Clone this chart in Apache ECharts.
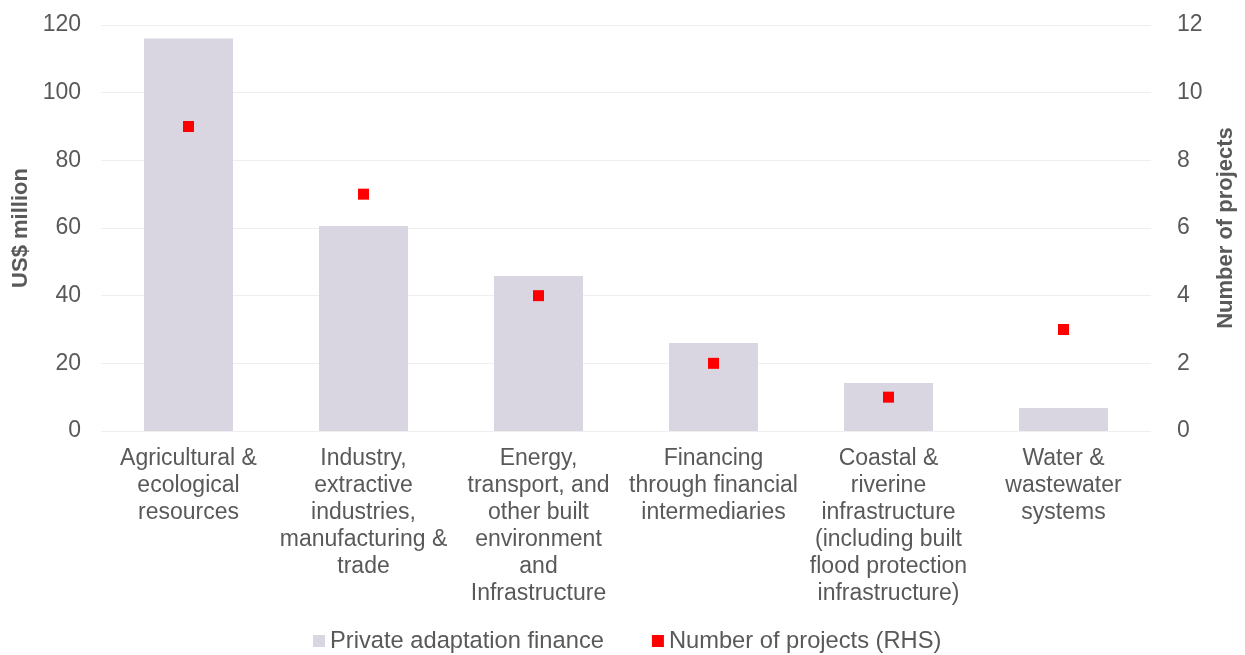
<!DOCTYPE html>
<html><head><meta charset="utf-8">
<script src="https://cdn.jsdelivr.net/npm/echarts@6/dist/echarts.min.js"></script>
<style>html,body{margin:0;padding:0;background:#fff;overflow:hidden}#c{width:1245px;height:655px}</style>
</head><body><div id="c"></div>
<script>
const categories = [
  "Agricultural &\necological\nresources",
  "Industry,\nextractive\nindustries,\nmanufacturing &\ntrade",
  "Energy,\ntransport, and\nother built\nenvironment\nand\nInfrastructure",
  "Financing\nthrough financial\nintermediaries",
  "Coastal &\nriverine\ninfrastructure\n(including built\nflood protection\ninfrastructure)",
  "Water &\nwastewater\nsystems"
];
const financeValues = [116, 60.6, 45.8, 26, 14.2, 6.8];
const projectCounts = [9, 7, 4, 2, 1, 3];
const leftTicks = [0, 20, 40, 60, 80, 100, 120];
const rightTicks = [0, 2, 4, 6, 8, 10, 12];

const font = "Liberation Sans, Arial, sans-serif";
const chart = echarts.init(document.getElementById('c'), null, {renderer: 'canvas', width: 1245, height: 655});
chart.setOption({
  animation: false,
  textStyle: {fontFamily: font},
  grid: {left: 101, right: 88, top: 25, bottom: 224, containLabel: false},
  legend: {
    top: 624, left: 308, itemGap: 48, itemWidth: 12, itemHeight: 12,
    icon: 'rect',
    textStyle: {fontSize: 23.7, color: '#595959', fontFamily: font},
    data: ['Private adaptation finance', 'Number of projects (RHS)']
  },
  xAxis: {
    type: 'category', data: categories,
    axisLine: {show: false}, axisTick: {show: false},
    axisLabel: {fontSize: 23, color: '#595959', lineHeight: 27, margin: 14, interval: 0, fontFamily: font, verticalAlign: 'top'}
  },
  yAxis: [{
    type: 'value', min: leftTicks[0], max: leftTicks[leftTicks.length-1], interval: 20,
    name: 'US$ million', nameLocation: 'middle', nameGap: 66, nameRotate: 90,
    nameTextStyle: {fontSize: 22, fontWeight: 'bold', color: '#595959', fontFamily: font},
    axisLabel: {fontSize: 23, color: '#595959', margin: 20, fontFamily: font},
    axisLine: {show: false}, axisTick: {show: false},
    splitLine: {lineStyle: {color: '#EFEFEF', width: 1}}
  }, {
    type: 'value', min: rightTicks[0], max: rightTicks[rightTicks.length-1], interval: 2,
    name: 'Number of projects', nameLocation: 'middle', nameGap: 64, nameRotate: 90,
    nameTextStyle: {fontSize: 22, fontWeight: 'bold', color: '#595959', fontFamily: font},
    axisLabel: {fontSize: 23, color: '#595959', margin: 26, fontFamily: font},
    axisLine: {show: false}, axisTick: {show: false},
    splitLine: {show: false}
  }],
  series: [{
    name: 'Private adaptation finance', type: 'bar', data: financeValues,
    barWidth: 89, itemStyle: {color: '#D9D6E2'}, yAxisIndex: 0
  }, {
    name: 'Number of projects (RHS)', type: 'scatter', data: projectCounts,
    yAxisIndex: 1, symbol: 'rect', symbolSize: 11, itemStyle: {color: '#FF0000', opacity: 1}
  }]
});
</script></body></html>
